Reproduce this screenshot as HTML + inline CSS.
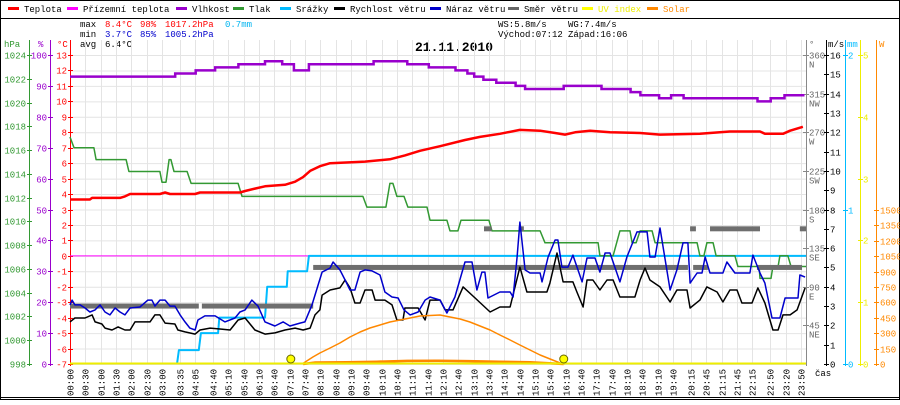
<!DOCTYPE html>
<html><head><meta charset="utf-8"><style>
body{margin:0;background:#fff}
svg text{font-family:"Liberation Mono","DejaVu Sans Mono",monospace;font-size:9px}
</style></head><body>
<svg id="c" width="900" height="400" viewBox="0 0 900 400" xmlns="http://www.w3.org/2000/svg">
<rect x="0" y="0" width="900" height="400" fill="#fff"/>
<rect x="0.5" y="0.5" width="899" height="399" fill="none" stroke="#000"/>
<line x1="0" y1="18.5" x2="900" y2="18.5" stroke="#000"/>
<line x1="0" y1="397.5" x2="900" y2="397.5" stroke="#000"/>
<g id="legend"></g>
<g>
<text x="80" y="27">max</text><text x="105" y="27" fill="#f00">8.4°C</text><text x="140" y="27" fill="#f00">98%</text><text x="165" y="27" fill="#f00">1017.2hPa</text><text x="225" y="27" fill="#00b4f0">0.7mm</text>
<text x="80" y="37">min</text><text x="105" y="37" fill="#00c">3.7°C</text><text x="140" y="37" fill="#00c">85%</text><text x="165" y="37" fill="#00c">1005.2hPa</text>
<text x="80" y="47">avg</text><text x="105" y="47">6.4°C</text>
<text x="498" y="27">WS:5.8m/s</text><text x="568" y="27">WG:7.4m/s</text>
<text x="498" y="37">Východ:07:12</text><text x="568" y="37">Západ:16:06</text>
</g>
<text x="415" y="51" style="font-size:13px;font-weight:bold">21.11.2010</text>
<g id="grid"></g>
<g id="axes"></g>
<g id="series"></g>
</svg>
<script>
const tempT=[0,0.65,0.72,1.63,1.79,1.96,2.93,3.10,3.26,4.08,4.24,5.54,5.71,6.03,6.36,7.01,7.34,7.60,7.83,8.15,8.48,9.62,10.43,10.92,11.41,12.07,12.88,13.37,14.02,14.67,15.33,15.82,16.14,16.47,16.96,17.61,18.59,19.24,20.54,21.52,22.50,22.66,23.25,23.48,23.90];
const tempV=[3.65,3.65,3.75,3.75,3.85,4.0,4.0,4.1,4.0,4.0,4.1,4.1,4.2,4.35,4.5,4.6,4.8,5.1,5.5,5.8,6.0,6.1,6.25,6.5,6.8,7.1,7.5,7.7,7.9,8.15,8.1,7.95,7.85,8.0,8.1,8.0,7.95,7.85,7.9,8.05,8.05,7.9,7.9,8.1,8.35];
const humT=[0,3.43,4.1,4.73,5.49,6.36,6.92,7.3,7.79,9.9,11.0,11.7,12.57,12.96,13.18,13.48,13.9,14.53,14.84,16.1,17.33,18.28,18.6,19.21,19.6,20.01,22.42,22.85,23.3,23.95];
const humV=[93,94,95,96,97,98,97,95,97,98,97,96,95,94,93,92,91,90,89,90,89,88,87,86,87,86,85,86,87,87];
const presT=[0,0.13,0.78,0.85,1.83,1.92,2.93,3.0,3.13,3.23,3.29,3.39,3.82,3.95,5.48,5.61,9.55,9.68,10.30,10.43,10.53,10.66,10.89,11.02,11.64,11.74,12.29,12.39,12.65,12.75,13.66,13.76,15.33,15.49,17.22,17.28,17.71,17.93,18.26,18.33,18.46,18.59,18.98,19.08,20.45,20.54,20.67,20.77,20.97,21.07,21.68,21.78,22.47,22.5,22.86,22.92,23.09,23.15,23.41,23.51,24];
const presV=[1017.1,1016.2,1016.2,1015.2,1015.2,1014.2,1014.2,1013.3,1013.3,1015.2,1015.2,1014.2,1014.2,1013.2,1013.2,1012.1,1012.1,1011.2,1011.2,1013.2,1013.2,1012.1,1012.1,1011.2,1011.2,1010.1,1010.1,1009.2,1009.2,1010.1,1010.1,1009.2,1009.2,1008.2,1008.2,1007.1,1007.1,1009.2,1009.2,1008.2,1008.2,1009.2,1009.2,1008.2,1008.2,1007.1,1007.1,1008.2,1008.2,1007.1,1007.1,1006.2,1006.2,1005.2,1005.2,1006.2,1006.2,1007.1,1007.1,1006.2,1006.2];
const rainT=[3.49,3.55,4.2,4.27,4.83,4.87,6.36,6.43,7.07,7.1,7.73,7.79,24];
const rainV=[0,0.09,0.09,0.2,0.2,0.3,0.3,0.5,0.5,0.6,0.6,0.7,0.7];
const windT=[0,.16,.49,.72,.82,1.04,1.14,1.37,1.57,1.79,1.96,2.12,2.35,2.61,2.77,2.93,3.10,3.42,3.52,3.75,4.08,4.24,4.57,4.89,5.22,5.48,5.71,6.03,6.36,6.68,7.01,7.34,7.60,7.83,7.99,8.15,8.22,8.48,8.80,8.97,9.13,9.29,9.46,9.62,9.85,9.95,10.27,10.50,10.66,10.86,10.92,11.35,11.58,11.74,12.07,12.23,12.49,12.82,13.21,13.70,14.02,14.35,14.67,14.90,15.55,15.65,15.88,16.08,16.40,16.53,16.73,16.86,17.05,17.28,17.51,17.71,17.93,18.42,18.59,18.75,18.91,19.24,19.57,19.79,20.12,20.22,20.54,20.77,21.10,21.29,21.52,21.75,21.91,22.24,22.43,22.66,22.92,23.09,23.25,23.48,23.71,23.97];
const windV=[2.18,2.38,2.38,2.54,2.18,2.07,1.86,1.76,1.92,1.76,1.76,2.18,2.18,2.18,2.54,2.54,2.12,2.07,1.76,1.66,1.55,1.76,1.86,1.81,1.76,2.28,2.38,1.76,1.55,1.61,1.76,1.86,1.76,1.86,2.54,2.80,3.57,3.83,3.94,4.35,3.94,3.16,3.16,3.83,3.83,3.31,3.31,3.06,2.28,2.28,2.90,2.90,2.28,3.31,3.31,2.80,2.80,3.99,3.42,2.69,2.95,2.95,5.02,3.73,3.73,4.19,5.75,4.25,4.25,3.73,2.95,4.35,4.35,3.83,4.35,4.35,3.47,3.47,4.35,4.97,4.35,3.99,3.21,3.83,3.83,2.90,3.31,3.99,3.73,3.21,3.83,3.83,3.16,3.16,3.94,3.16,1.76,1.76,2.54,2.54,2.80,3.94];
const gustT=[0,.07,.16,.33,.49,.65,.82,.98,1.14,1.30,1.47,1.63,1.79,1.96,2.28,2.54,2.67,2.77,2.93,3.10,3.26,3.42,3.59,3.75,3.91,4.08,4.17,4.40,4.73,5.05,5.38,5.54,5.71,5.93,6.13,6.36,6.68,6.95,7.17,7.50,7.66,7.89,8.09,8.22,8.48,8.58,8.80,8.97,9.13,9.29,9.46,9.62,9.85,10.11,10.27,10.50,10.70,10.89,11.09,11.35,11.58,11.74,12.07,12.29,12.55,12.88,13.11,13.27,13.43,13.53,13.63,14.02,14.35,14.45,14.58,14.67,14.84,15.00,15.33,15.39,15.59,15.82,15.91,16.04,16.24,16.40,16.70,16.86,17.12,17.28,17.45,17.61,17.93,18.16,18.49,18.82,18.91,19.08,19.24,19.57,19.79,19.99,20.15,20.22,20.45,20.61,20.71,20.87,21.29,21.42,21.68,22.17,22.27,22.50,22.66,22.89,23.15,23.32,23.74,23.80,23.97];
const gustV=[3.06,3.31,3.06,3.06,2.90,2.69,2.80,3.06,2.69,2.54,2.90,2.69,2.54,2.90,2.95,3.31,3.31,3.00,3.31,3.31,3.00,3.00,2.54,2.18,1.86,1.76,2.28,2.49,2.49,2.18,2.38,2.69,2.80,3.31,3.00,2.18,1.97,2.18,1.97,2.12,2.18,3.06,4.09,4.76,4.97,5.28,4.87,4.35,3.83,3.83,4.76,4.87,4.82,4.61,3.73,3.47,3.42,2.80,2.54,2.69,3.31,3.47,3.31,2.64,3.47,5.28,5.28,3.83,4.76,4.76,3.42,3.73,3.73,3.47,5.54,7.35,4.87,4.71,4.71,4.25,5.54,6.42,6.42,5.02,5.02,5.64,4.25,5.49,5.49,4.76,5.75,5.75,4.25,5.54,6.84,6.84,5.54,5.54,7.04,3.83,4.87,6.27,6.27,4.19,4.71,4.71,5.54,4.71,4.71,5.28,4.71,4.71,5.64,4.71,4.19,2.38,2.38,3.42,3.42,4.61,4.50];
const dirStart=[0,4.3,7.93,20.32,22.4,13.5,14.63,20.22,20.87,23.8];
const dirEnd=[4.2,7.93,20.15,20.80,23.87,13.75,14.8,20.41,22.5,24];
const dirV=[67.5,67.5,112.5,112.5,112.5,157.5,157.5,157.5,157.5,157.5];
const solarT=[7.57,7.92,8.15,8.48,8.80,9.13,9.46,9.78,10.11,10.43,10.76,11.09,11.41,12.07,12.39,12.72,13.04,13.37,13.70,14.02,14.35,14.67,15.33,15.98,16.14];
const solarV=[0,68,107,156,205,263,312,351,380,409,429,448,468,477,458,438,409,370,331,282,234,185,88,10,0];
const solar2T=[7.6,8.0,9.0,10.0,11.0,12.0,13.0,14.0,15.0,16.1];
const solar2V=[0,15,18,22,30,32,28,22,18,0];
const sunT=[7.2,16.1];
const hpaTicks=[998,1000,1002,1004,1006,1008,1010,1012,1014,1016,1018,1020,1022,1024];
const humTicks=[0,10,20,30,40,50,60,70,80,90,100];
const tempTicks=[-7,-6,-5,-4,-3,-2,-1,0,1,2,3,4,5,6,7,8,9,10,11,12,13];
const dirTicks=[45,90,135,180,225,270,315,360];
const dirNames=["NE","E","SE","S","SW","W","NW","N"];
const msTicks=[0,1,2,3,4,5,6,7,8,9,10,11,12,13,14,15,16];
const mmTicks=[0,1,2];
const uvTicks=[0,1,2,3,4,5];
const wTicks=[0,150,300,450,600,750,900,1050,1200,1350,1500];
const timeLabels=["00:00","00:30","01:00","01:30","02:00","02:30","03:00","03:35","04:05","04:40","05:10","05:40","06:10","06:40","07:10","07:40","08:10","08:40","09:10","09:40","10:10","10:40","11:10","11:40","12:10","12:40","13:10","13:40","14:10","14:40","15:10","15:40","16:10","16:40","17:10","17:40","18:10","18:40","19:10","19:40","20:15","20:45","21:15","21:45","22:15","22:50","23:20","23:50"];
const legendNames=["Teplota","Přízemní teplota","Vlhkost","Tlak","Srážky","Rychlost větru","Náraz větru","Směr větru","UV index","Solar"];

const NS="http://www.w3.org/2000/svg";
const X0=70,X1=806,YB=364,YTOP=55,H=YB-YTOP;
const X=h=>X0+h/24*(X1-X0);
const YT=t=>YB-(t+7)/20*H;
const YH=v=>YB-v/100*H;
const YP=p=>YB-(p-998)/26*H;
const YW=v=>YB-v/16*H;
const YD=d=>YB-d/360*H;
const YR=m=>YB-m/2*H;
const YU=u=>YB-u/5*H;
const YS=w=>YB-w/150*15.4;
function mk(tag,attrs,parent){const e=document.createElementNS(NS,tag);for(const k in attrs)e.setAttribute(k,attrs[k]);parent.appendChild(e);return e;}
function txt(s,x,y,fill,parent,anchor){const e=mk('text',{x:x,y:y,fill:fill,'text-anchor':anchor||'start'},parent);e.textContent=s;return e;}
const grid=document.getElementById('grid'),axes=document.getElementById('axes'),ser=document.getElementById('series'),leg=document.getElementById('legend');

// legend
const legColors=["#f00","#f0f","#90c","#393","#0bf","#000","#00c","#666","#ff0","#f80"];
const legX=[8,67,176,233,280,334,430,508,582,647];
legendNames.forEach((n,i)=>{
  const g=mk('g',{},leg);
  
  
  mk('rect',{x:legX[i],y:7,width:11,height:3,fill:legColors[i]},g);
  txt(n,legX[i]+16,12,i==8?"#ee0":(i==9?"#f80":"#000"),g);
});

// grid
tempTicks.forEach(t=>{const l=mk('line',{x1:X0,x2:X1,y1:YT(t)+.5,y2:YT(t)+.5,stroke:'#e4e4e4'},grid);

});
function parseT(s){const p=s.split(':');return +p[0]+(+p[1])/60;}
timeLabels.forEach(s=>{const x=Math.round(X(parseT(s)))+.5;
const l=mk('line',{x1:x,x2:x,y1:40,y2:YB,stroke:'#e4e4e4'},grid);


const t=mk('text',{x:0,y:0,transform:`translate(${x+3},396) rotate(-90)`,fill:'#000'},axes);
t.textContent=s;

});
txt('čas',815,376,'#000',axes);

// left axes
function vaxis(x,color,ticks,yf,lbl,labX,anchor,head,headX){
  mk('line',{x1:x+.5,x2:x+.5,y1:40,y2:YB+2,stroke:color},axes);
  ticks.forEach(v=>{const y=Math.round(yf(v))+.5;mk('line',{x1:x-2,x2:x+3,y1:y,y2:y,stroke:color},axes);
    const t=txt(lbl(v),labX,y+3,color,axes,anchor);
    
    });
  txt(head,headX,47,color,axes);
}
vaxis(29,'#393',hpaTicks,YP,v=>v,26,'end','hPa',4);
vaxis(50,'#90c',humTicks,YH,v=>v,47,'end','%',38);
vaxis(70,'#f00',tempTicks,YT,v=>v,67,'end','°C',57);
// right axes
mk('line',{x1:806.5,x2:806.5,y1:40,y2:YB+2,stroke:'#888'},axes);
dirTicks.forEach((d,i)=>{const y=Math.round(YD(d))+.5;mk('line',{x1:803,x2:809,y1:y,y2:y,stroke:'#888'},axes);
 txt(d,809,y+3,'#666',axes);txt(dirNames[i],809,y+12,'#666',axes);});
txt('°',809,47,'#666',axes);
vaxis(826,'#000',msTicks,YW,v=>v,830,'start','m/s',828);
vaxis(845,'#0bf',mmTicks,YR,v=>v,848,'start','mm',847);
vaxis(860,'#ee0',uvTicks,YU,v=>v,863,'start','',860);
mk('line',{x1:876.5,x2:876.5,y1:40,y2:YB+2,stroke:'#f80'},axes);
wTicks.forEach(w=>{const y=Math.round(YS(w))+.5;mk('line',{x1:874,x2:879,y1:y,y2:y,stroke:'#f80'},axes);txt(w,880,y+3,'#f80',axes);});
txt('W',879,47,'#f80',axes);

// series
function line(T,V,yf,color,w,name){const d=T.map((t,i)=>(i?'L':'M')+X(t).toFixed(1)+','+yf(V[i]).toFixed(1)).join('');
 const p=mk('path',{d:d,fill:'none',stroke:color,'stroke-width':w,'stroke-linejoin':'round'},ser);
 
 }
function stepline(T,V,yf,color,w,name){let d='';T.forEach((t,i)=>{const x=X(t).toFixed(1),y=yf(V[i]).toFixed(1);d+=i?('L'+x+','+yf(V[i-1]).toFixed(1)+'L'+x+','+y):('M'+x+','+y);});
 const p=mk('path',{d:d,fill:'none',stroke:color,'stroke-width':w},ser);
 
 }
const zl=mk('line',{x1:X0,x2:X1,y1:YT(0),y2:YT(0),stroke:'#f0f'},ser);


line(rainT,rainV,YR,'#0bf',2,'rain-line');
line(presT,presV,YP,'#393',1.5,'pressure-line');
stepline(humT,humV,YH,'#90c',2.5,'humidity-line');
line(tempT,tempV,YT,'#f00',2.5,'temperature-line');
dirStart.forEach((s,i)=>{const r=mk('rect',{x:X(s),y:YD(dirV[i])-2.5,width:X(dirEnd[i])-X(s),height:5,fill:'#6e6e6e'},ser);
 
 });
line(windT,windV,YW,'#000',1.5,'wind-speed-line');
line(gustT,gustV,YW,'#00c',1.5,'wind-gust-line');
line(solarT,solarV,YS,'#f80',1.5,'solar-line');
line(solar2T,solar2V,YS,'#f80',2.5,'solar-baseline');
const ub=mk('line',{x1:X0,x2:X1,y1:YB-0.5,y2:YB-0.5,stroke:'#ee0','stroke-width':2},ser);


sunT.forEach(t=>{const c=mk('circle',{cx:X(t),cy:YB-5,r:4,fill:'#ff0',stroke:'#660'},ser);
 
 });
</script>
</body></html>
